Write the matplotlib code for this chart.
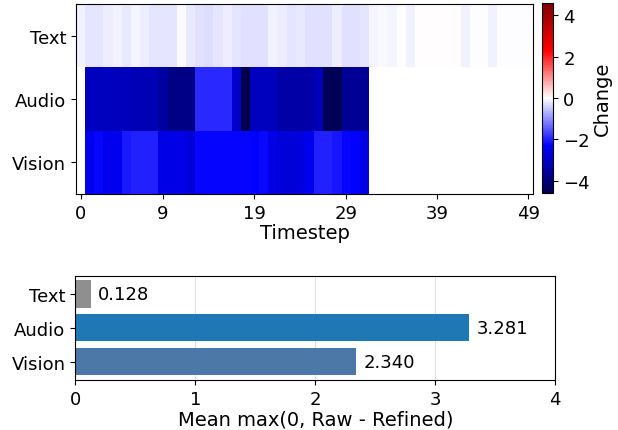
import numpy as np
import matplotlib
matplotlib.use("Agg")
import matplotlib.pyplot as plt

# Per-timestep change values
modalities = ["Text", "Audio", "Vision"]
timesteps = list(range(50))
xticks = [0, 9, 19, 29, 39, 49]

text_change = [-0.135, -0.244, -0.225, -0.153, -0.117, -0.19, -0.099, -0.17, -0.244, -0.244,
               -0.244, -0.07, -0.207, -0.26, -0.315, -0.225, -0.153, -0.225, -0.26, -0.26,
               -0.26, -0.117, -0.153, -0.225, -0.19, -0.28, -0.28, -0.28, -0.153, -0.26,
               -0.26, -0.225, -0.099, -0.045, -0.099, -0.027, -0.117, 0.03, 0.03, 0.03,
               0.03, -0.027, -0.117, -0.009, -0.009, -0.117, -0.018, -0.018, -0.018, -0.018]
audio_change = [np.nan, -3.1, -3.1, -3.1, -3.15, -3.15, -3.2, -3.25, -3.25, -3.5,
                -3.85, -3.85, -3.85, -1.92, -1.92, -1.92, -1.92, -2.95, -4.6, -3.1,
                -3.1, -3.1, -3.42, -3.42, -3.42, -3.42, -3.21, -4.45, -4.45, -3.63,
                -3.63, -3.63] + [np.nan] * 18
vision_change = [np.nan, -2.5, -2.25, -2.5, -2.5, -2.07, -2.0, -2.0, -2.0, -2.6,
                 -2.6, -2.6, -2.8, -2.23, -2.23, -2.23, -2.23, -2.23, -2.23, -2.3,
                 -2.2, -2.6, -2.8, -2.8, -2.7, -2.5, -1.98, -1.98, -2.1, -2.25,
                 -2.3, -2.65] + [np.nan] * 18

# Summary bars
mean_pos = [0.128, 3.281, 2.340]
bar_colors = ["#8f8f8f", "#1f77b4", "#4c78a8"]

data = np.array([text_change, audio_change, vision_change])
vmax = np.nanmax(np.abs(data))

fig = plt.figure(figsize=(6.18, 4.31), dpi=100)
ax1 = fig.add_axes([0.123, 0.5476, 0.7395, 0.4408])
cax = fig.add_axes([0.877, 0.5499, 0.0186, 0.4408])
ax2 = fig.add_axes([0.1218, 0.116, 0.7767, 0.242])

im = ax1.imshow(data, aspect="auto", cmap="seismic", vmin=-vmax, vmax=vmax,
                interpolation="nearest")
ax1.set_yticks(range(len(modalities)))
ax1.set_yticklabels(modalities, fontsize=13)
ax1.set_xticks(xticks)
ax1.set_xticklabels([str(t) for t in xticks], fontsize=13)
ax1.set_xlabel("Timestep", fontsize=14, labelpad=1)

cb = fig.colorbar(im, cax=cax)
cb.set_ticks([-4, -2, 0, 2, 4])
cb.ax.tick_params(labelsize=13)
cb.set_label("Change", fontsize=14, labelpad=2)

y = np.arange(len(modalities))
ax2.barh(y, mean_pos, color=bar_colors, height=0.8)
ax2.invert_yaxis()
ax2.set_yticks(y)
ax2.set_yticklabels(modalities, fontsize=13)
ax2.set_xlim(0, 4)
ax2.set_xticks([0, 1, 2, 3, 4])
ax2.tick_params(axis="x", labelsize=13)
ax2.set_xlabel("Mean max(0, Raw - Refined)", fontsize=14, labelpad=1)
ax2.grid(axis="x", color="#e0e0e0", linewidth=0.8)
ax2.set_axisbelow(True)
for yi, v in zip(y, mean_pos):
    ax2.text(v + 0.06, yi, f"{v:.3f}", va="center", ha="left", fontsize=13)

plt.savefig("out.png", dpi=100)
